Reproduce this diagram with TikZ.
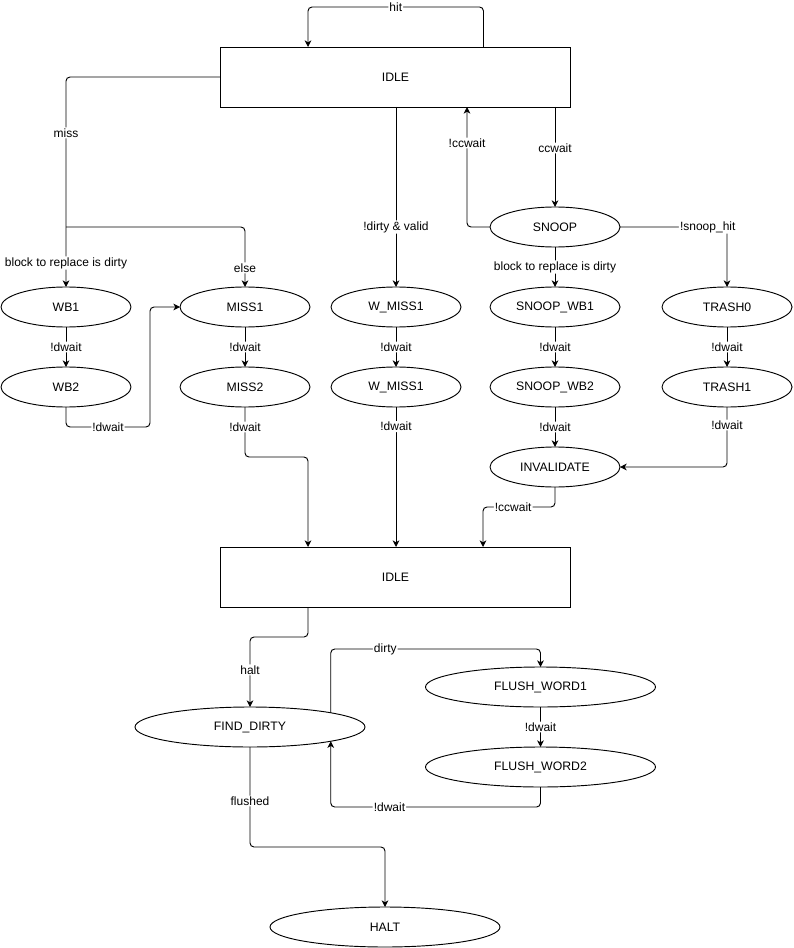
\documentclass[tikz,border=0pt]{standalone}
\usepackage{fontspec}
\setmainfont{Liberation Sans}
\usetikzlibrary{shapes.geometric,arrows.meta,positioning,calc}
\tikzset{
  idlebox/.style={draw,line width=0.7pt,minimum width=263pt,minimum height=45pt,
                  inner sep=0pt,outer sep=0pt,font=\fontsize{9.2}{11}\selectfont},
  state/.style={draw,ellipse,line width=0.7pt,minimum width=97.5pt,minimum height=30pt,
                inner sep=0pt,outer sep=0pt,font=\fontsize{9.2}{11}\selectfont},
  widestate/.style={state,minimum width=172.5pt},
  arr/.style={-{Stealth[length=5pt,width=5pt,inset=1.5pt]},line width=0.7pt,rounded corners=3pt},
  lbl/.style={fill=white,inner sep=0.8pt,font=\fontsize{9}{10}\selectfont},
}

\begin{document}
\begin{tikzpicture}[x=0.75pt,y=0.75pt,node distance=30pt]
        \path[use as bounding box,fill=white] (0,0) rectangle (793,-948);
        % upper half
        \node[idlebox] (idle) at (395.5,-77) {IDLE};
        \node[state] (wb1) at (66,-307) {WB1};
        \node[state,below=of wb1] (wb2) {WB2};
        \node[state] (miss1) at (245,-307) {MISS1};
        \node[state,below=of miss1] (miss2) {MISS2};
        \node[state] (wmiss1) at (396,-307) {W\_MISS1};
        \node[state,below=of wmiss1] (wmiss2) {W\_MISS1};
        \node[state] (snoop) at (555,-227) {SNOOP};
        \node[state,below=of snoop] (swb1) {SNOOP\_WB1};
        \node[state,below=of swb1] (swb2) {SNOOP\_WB2};
        \node[state,below=of swb2] (inval) {INVALIDATE};
        \node[state] (trash0) at (727,-307) {TRASH0};
        \node[state,below=of trash0] (trash1) {TRASH1};
        % lower half
        \node[idlebox] (idle2) at (395.5,-577) {IDLE};
        \node[widestate] (find) at (250,-727) {FIND\_DIRTY};
        \node[widestate] (fw1) at (540.5,-687) {FLUSH\_WORD1};
        \node[widestate,below=of fw1] (fw2) {FLUSH\_WORD2};
        \node[widestate] (halt) at (385,-927) {HALT};
        \coordinate (mbr) at ($(wb1.north)+(0,60)$);

        \draw[arr] ($(idle.north)+(88,0)$) -- ++(0,40)
              -| node[lbl,pos=0.25]{hit} ($(idle.north)+(-87.5,0)$);
        \draw[arr] (idle.west) -| node[lbl,pos=0.633]{miss}
              node[lbl,pos=0.943]{block to replace is dirty} (wb1.north);
        \draw[arr] (mbr) -| node[lbl,pos=0.84]{else} (miss1.north);
        \draw[arr] (wmiss1.north |- idle.south) -- node[lbl,pos=0.667]{!dirty \& valid} (wmiss1.north);
        \draw[arr] (snoop.north |- idle.south) -- node[lbl,pos=0.41]{ccwait} (snoop.north);
        \draw[arr] (snoop.west) -| node[lbl,pos=0.85]{!ccwait} ($(idle.south)+(71.5,0)$);
        \draw[arr] (snoop.east) -| node[lbl,pos=0.41]{!snoop\_hit} (trash0.north);
        \draw[arr] (snoop) -- node[lbl]{block to replace is dirty} (swb1);
        \foreach \a/\b in {wb1/wb2,miss1/miss2,wmiss1/wmiss2,swb1/swb2,swb2/inval,trash0/trash1,fw1/fw2}
          \draw[arr] (\a) -- node[lbl]{!dwait} (\b);
        \draw[arr] (wb2.south) |- node[lbl,pos=0.75]{!dwait} ($(miss1.west)+(-30,-120)$) |- (miss1.west);
        \draw[arr] (miss2.south) -- node[lbl,pos=0.4]{!dwait} ++(0,-50) -| ($(idle2.north)+(-87.5,0)$);
        \draw[arr] (wmiss2) -- node[lbl,pos=0.14]{!dwait} (wmiss2.south |- idle2.north);
        \draw[arr] (trash1.south) |- node[lbl,pos=0.15]{!dwait} (inval.east);
        \draw[arr] (inval.south) -- ++(0,-20) -| node[lbl,pos=0.29]{!ccwait} ($(idle2.north)+(87.5,0)$);
        \draw[arr] ($(idle2.south)+(-87.5,0)$) -- ++(0,-30) -| node[lbl,pos=0.735]{halt} (find.north);
        \draw[arr] (find.10) |- node[lbl,pos=0.63]{dirty} ($(fw1.north)+(0,18)$) -- (fw1.north);
        \draw[arr] (fw2.south) -- ++(0,-20) -| node[lbl,pos=0.36]{!dwait} (find.-10);
        \draw[arr] (find.south) -- node[lbl,pos=0.54]{flushed} ++(0,-100) -| (halt.north);
      \end{tikzpicture}
\end{document}
